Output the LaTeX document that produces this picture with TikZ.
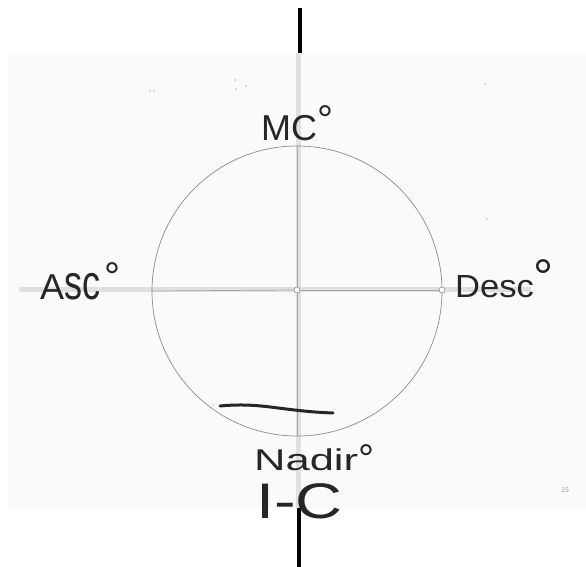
\documentclass[tikz,border=0pt]{standalone}
\usepackage{fontspec}
\setmainfont{Liberation Sans}
\newcommand{\dgr}[2]{\raisebox{#2}{\fontsize{#1}{#1}\selectfont°}}
\begin{document}
\begin{tikzpicture}[x=1pt,y=-1pt,
  hand/.style={text=black!85, inner sep=0pt, anchor=base west},
  band/.style={line width=5pt, draw=black!12},
  axis/.style={line width=0.7pt, draw=black!35},
  bar/.style={line width=4.5pt, draw=black},
  knob/.style={circle, draw=black!45, fill=white, line width=0.6pt, minimum size=6pt, inner sep=0pt},
  speck/.style={circle, fill=black!60, inner sep=0pt, minimum size=1.4pt}]
\useasboundingbox (0,0) rectangle (586,567);
% panel
\fill[black!2] (8,53) rectangle (586,508);
% black bars
\coordinate (topT) at (300,8);
\coordinate (topB) at (300,53);
\coordinate (botT) at (299,508);
\coordinate (botB) at (299,567);
\draw[bar] (topT) -- (topB);
\draw[bar] (botT) -- (botB);
% bands
\coordinate (vt) at (298,53);
\coordinate (vb) at (298,508);
\coordinate (hl) at (19,289);
\coordinate (hr) at (531,289);
\draw[band] (vt) -- (vb);
\draw[band] (hl) -- (hr);
% circle
\node[circle, draw=black!45, line width=0.7pt, minimum size=290pt, inner sep=0pt] (circ) at (297,291) {};
\node[knob] (ctr) at (297,290) {};
\node[knob] (desc) at (442,290) {};
\draw[axis] (circ.north) -- (ctr);
\draw[axis] (ctr) -- (circ.south);
\draw[axis] (circ.west) -- (ctr);
\draw[axis] (ctr) -- (desc);
% labels
\node[hand, font=\fontsize{36}{36}\selectfont] (mc) at (261,140) {MC\dgr{40}{7pt}};
\node[hand, font=\fontsize{36}{36}\selectfont] (asc) at (40,299) {A\scalebox{1}[1.35]{sc}\hspace{4pt}\dgr{40}{9pt}};
\node[hand, font=\fontsize{32}{32}\selectfont] (dsc) at (455,297) {\scalebox{1.08}[1]{Desc}\dgr{50}{3pt}};
\node[hand, font=\fontsize{30}{30}\selectfont] (nad) at (254,470) {\scalebox{1.45}[1]{Nadir}\dgr{40}{-2pt}};
\node[hand, font=\fontsize{50}{50}\selectfont] (ic) at (256,518) {\scalebox{1.3}[1]{I-C}};
% stroke
\coordinate (s1) at (220,406);
\coordinate (s2) at (333,413);
\draw[line width=3pt, line cap=round, black!85] (s1) .. controls (262,402) and (280,411) .. (s2);
% page number
\node[text=black!40, font=\fontsize{7}{7}\selectfont] (pg) at (565,490) {15};
% specks
\node[speck] (d1) at (150,91) {};
\node[speck] (d2) at (154,91) {};
\node[speck] (d3) at (235,80) {};
\node[speck] (d4) at (236,89) {};
\node[speck] (d5) at (246,86) {};
\node[speck] (d6) at (485,84) {};
\node[speck] (d7) at (487,219) {};
\end{tikzpicture}
\end{document}
